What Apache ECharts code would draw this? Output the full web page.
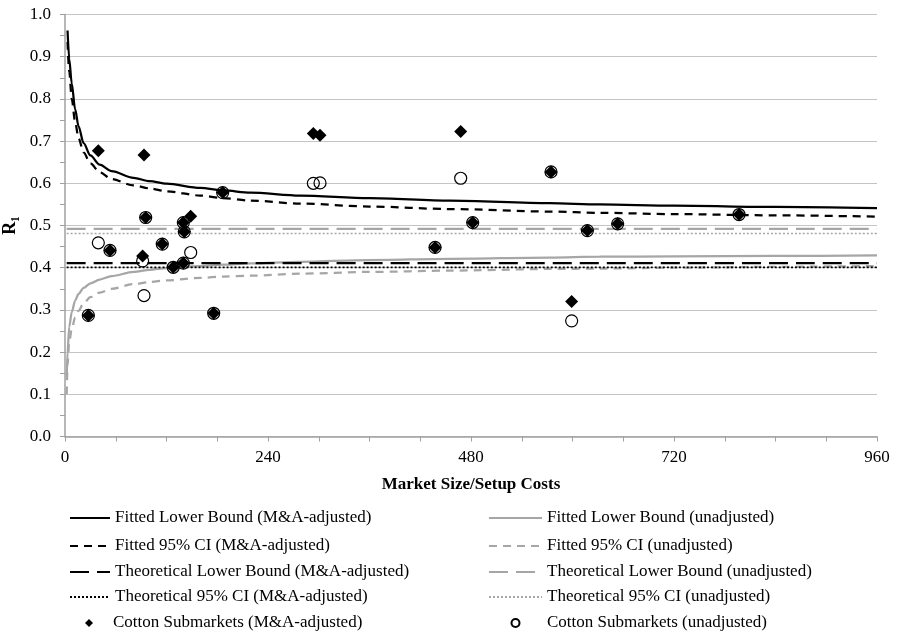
<!DOCTYPE html>
<html>
<head>
<meta charset="utf-8">
<script src="https://cdn.jsdelivr.net/npm/echarts@6/dist/echarts.min.js"></script>
<style>html,body{margin:0;padding:0;background:#fff;}#c{width:897px;height:638px;}</style>
</head>
<body>
<div id="c"></div>
<script>
// ---- data ----
const curveX        = [2, 3, 5, 8, 12, 16, 22, 30, 41, 55, 81, 100, 120, 160, 187, 219, 278, 360, 455, 573, 632, 720, 840, 960];
const fittedLbAdj   = [null, 0.962, 0.895, 0.836, 0.775, 0.735, 0.695, 0.666, 0.644, 0.629, 0.613, 0.605, 0.599, 0.589, 0.583, 0.578, 0.571, 0.565, 0.559, 0.553, 0.550, 0.547, 0.544, 0.541];
const fittedCiAdj   = [null, 0.935, 0.865, 0.800, 0.745, 0.707, 0.673, 0.647, 0.626, 0.610, 0.595, 0.588, 0.581, 0.571, 0.565, 0.559, 0.552, 0.545, 0.539, 0.533, 0.530, 0.527, 0.524, 0.521];
const fittedLbUnadj = [0.140, 0.200, 0.260, 0.295, 0.322, 0.338, 0.352, 0.363, 0.372, 0.380, 0.390, 0.395, 0.399, 0.404, 0.407, 0.410, 0.414, 0.418, 0.421, 0.424, 0.426, 0.427, 0.428, 0.429];
const fittedCiUnadj = [0.100, 0.170, 0.225, 0.255, 0.282, 0.298, 0.316, 0.330, 0.341, 0.350, 0.361, 0.366, 0.370, 0.376, 0.379, 0.381, 0.386, 0.390, 0.393, 0.397, 0.398, 0.400, 0.402, 0.404];

const theoryX       = [2, 960];
const theoryLbAdj   = 0.411;
const theoryCiAdj   = 0.401;
const theoryLbUnadj = 0.492;
const theoryCiUnadj = 0.481;

const submarketX = [27.6, 39.4, 53.2, 91.8, 93.4, 95.4, 115, 128, 139.9, 139.9, 141, 148.6, 175.8, 186.4, 293.6, 301.5, 437.5, 467.8, 482, 574.6, 599, 617.6, 653.4, 796.9];
const r1Adj      = [0.287, 0.677, 0.441, 0.428, 0.667, 0.519, 0.456, 0.401, 0.411, 0.507, 0.485, 0.522, 0.292, 0.578, 0.718, 0.714, 0.448, 0.723, 0.507, 0.627, 0.320, 0.488, 0.504, 0.526];
const r1Unadj    = [0.287, 0.459, 0.441, 0.416, 0.334, 0.519, 0.456, 0.401, 0.411, 0.507, 0.485, 0.436, 0.292, 0.578, 0.600, 0.601, 0.448, 0.612, 0.507, 0.627, 0.274, 0.488, 0.504, 0.526];

const xTicks = [0, 240, 480, 720, 960];

const names = [
  'Fitted Lower Bound (M&A-adjusted)', 'Fitted 95% CI (M&A-adjusted)', 'Theoretical Lower Bound (M&A-adjusted)',
  'Theoretical 95% CI (M&A-adjusted)', 'Cotton Submarkets (M&A-adjusted)',
  'Fitted Lower Bound (unadjusted)', 'Fitted 95% CI (unadjusted)', 'Theoretical Lower Bound (unadjusted)',
  'Theoretical 95% CI (unadjusted)', 'Cotton Submarkets (unadjusted)'
];

// ---- build ----
const pairs = (xs, ys) => xs.map((x, i) => [x, ys[i]]).filter(p => p[1] !== null);
const flat = (xs, v) => xs.map(x => [x, v]);
const FONT = 'Liberation Serif';
const GREY = '#a6a6a6';

function lineSeries(name, data, color, width, type) {
  return {
    name, type: 'line', data, symbol: 'none', showSymbol: false,
    smooth: 0.3, smoothMonotone: 'x',
    lineStyle: { color, width, type, cap: 'butt' },
    itemStyle: { color }, z: 2, silent: true, animation: false
  };
}

const series = [
  lineSeries(names[5], pairs(curveX, fittedLbUnadj), GREY, 2.25, 'solid'),
  lineSeries(names[6], pairs(curveX, fittedCiUnadj), GREY, 2.25, [8, 6]),
  lineSeries(names[7], flat(theoryX, theoryLbUnadj), GREY, 2.25, [19, 8]),
  lineSeries(names[8], flat(theoryX, theoryCiUnadj), GREY, 1.5, [2, 2]),
  lineSeries(names[0], pairs(curveX, fittedLbAdj), '#000', 2.25, 'solid'),
  lineSeries(names[1], pairs(curveX, fittedCiAdj), '#000', 2.25, [8, 6]),
  lineSeries(names[2], flat(theoryX, theoryLbAdj), '#000', 2.25, [19, 8]),
  lineSeries(names[3], flat(theoryX, theoryCiAdj), '#000', 1.75, [2, 2]),
  {
    name: names[9], type: 'scatter', data: pairs(submarketX, r1Unadj), symbol: 'circle', symbolSize: 12,
    itemStyle: { color: 'rgba(255,255,255,0)', borderColor: '#000', borderWidth: 1.2, opacity: 1 }, z: 3, animation: false
  },
  {
    name: names[4], type: 'scatter', data: pairs(submarketX, r1Adj), symbol: 'diamond', symbolSize: 13,
    itemStyle: { color: '#000', opacity: 1 }, z: 4, animation: false
  }
];

const rowCenters = [518, 546, 572, 597, 623];
const legends = [];
for (let i = 0; i < 10; i++) {
  const left = i < 5;
  const row = i % 5;
  const isScatter = row === 4;
  const iconLeft = left ? 69 : 488;
  const iconW = left ? 40 : 53;
  const textX = left ? 113 : 546;
  if (isScatter) {
    const sz = 8;
    const cx = iconLeft + iconW / 2;
    legends.push({
      data: [names[i]],
      left: cx - sz / 2,
      top: rowCenters[row] - 10,
      padding: 0,
      itemWidth: sz,
      itemHeight: sz,
      selectedMode: false,
      textStyle: { fontFamily: FONT, fontSize: 17, color: '#000', lineHeight: 20,
        padding: [0, 0, 0, textX - (cx + sz / 2) - 5] }
    });
  } else {
    legends.push({
      data: [names[i]],
      left: iconLeft,
      top: rowCenters[row] - 10,
      padding: 0,
      itemWidth: iconW,
      itemHeight: 14,
      selectedMode: false,
      itemStyle: { opacity: 0 },
      textStyle: { fontFamily: FONT, fontSize: 17, color: '#000', lineHeight: 20 }
    });
  }
}

const chart = echarts.init(document.getElementById('c'), null, { renderer: 'canvas' });
chart.setOption({
  animation: false,
  backgroundColor: '#fff',
  grid: { left: 65, right: 20, top: 14.5, bottom: 201.5, containLabel: false, outerBoundsMode: 'none' },
  legend: legends,
  xAxis: {
    type: 'value', min: xTicks[0], max: xTicks[xTicks.length - 1], interval: 240,
    name: 'Market Size/Setup Costs', nameLocation: 'middle', nameGap: 40,
    nameTextStyle: { fontFamily: FONT, fontSize: 17, fontWeight: 'bold', color: '#000' },
    axisLine: { show: true, onZero: false, lineStyle: { color: '#a0a0a0', width: 1.5 } },
    axisTick: { show: true, length: 5, lineStyle: { color: '#a0a0a0' } },
    minorTick: { show: true, splitNumber: 4, length: 5, lineStyle: { color: '#a0a0a0' } },
    splitLine: { show: false },
    axisLabel: { fontFamily: FONT, fontSize: 17, color: '#000', margin: 13,
      formatter: v => xTicks.includes(v) ? String(v) : '' }
  },
  yAxis: {
    type: 'value', min: 0, max: 1, interval: 0.1,
    name: 'R\u2081', nameLocation: 'middle', nameGap: 34, nameRotate: 90,
    nameTextStyle: { fontFamily: FONT, fontSize: 18, fontWeight: 'bold', color: '#000' },
    axisLine: { show: true, lineStyle: { color: '#a0a0a0', width: 1.5 } },
    axisTick: { show: true, length: 5, lineStyle: { color: '#a0a0a0' } },
    minorTick: { show: true, splitNumber: 2, length: 5, lineStyle: { color: '#a0a0a0' } },
    splitLine: { show: true, lineStyle: { color: '#c4c4c4', width: 1 } },
    axisLabel: { fontFamily: FONT, fontSize: 17, color: '#000', margin: 14,
      formatter: v => v.toFixed(1) }
  },
  series
});
</script>
</body>
</html>
